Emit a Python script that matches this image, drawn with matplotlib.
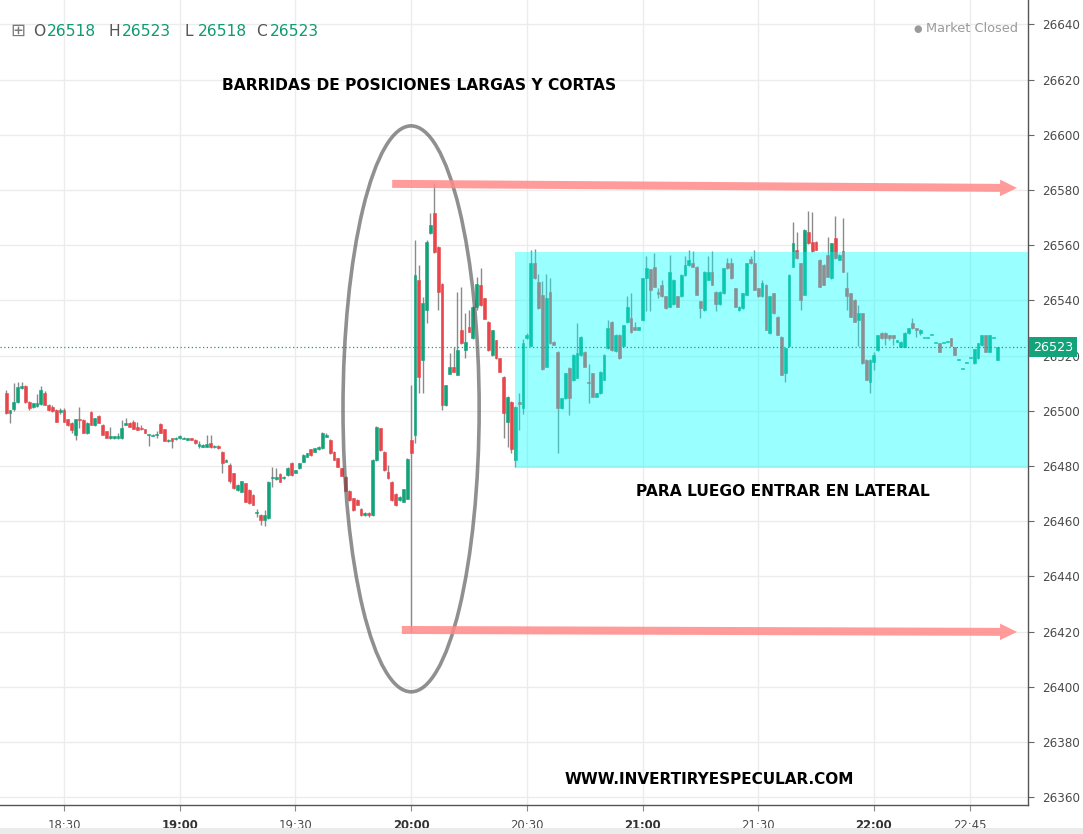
import matplotlib
matplotlib.use('Agg')
import matplotlib.pyplot as plt
from matplotlib.patches import Ellipse, Rectangle, FancyArrow
import matplotlib.transforms as mtransforms
import numpy as np

# ---------------- data (1-minute candles, bar index = position) ----------------
opens = [
 26506.5, 26499.3, 26500.5, 26503.3, 26508.4, 26508.8, 26503.3, 26501.5, 26501.8, 26502.3,
 26506.3, 26502.1, 26501.5, 26500.3, 26499.7, 26500.3, 26496.9, 26495.5, 26491.2, 26496.7,
 26496.7, 26491.9, 26499.5, 26494.9, 26498.0, 26494.9, 26492.5, 26490.0, 26490.0, 26490.0,
 26490.0, 26495.0, 26495.5, 26496.1, 26494.3, 26493.5, 26493.3, 26491.1, 26491.0, 26491.3,
 26495.3, 26493.3, 26489.0, 26490.1, 26489.8, 26490.1, 26489.9, 26489.5, 26490.1, 26489.5,
 26487.3, 26487.0, 26487.0, 26488.5, 26486.8, 26487.3, 26485.2, 26481.6, 26480.4, 26477.4,
 26471.3, 26470.7, 26473.8, 26471.3, 26469.5, 26463.0, 26462.2, 26460.6, 26461.0, 26475.5,
 26475.3, 26477.1, 26475.5, 26476.7, 26481.2, 26477.5, 26479.1, 26481.6, 26483.4, 26486.0,
 26485.2, 26486.1, 26486.4, 26490.6, 26489.4, 26485.2, 26482.8, 26479.1, 26476.1, 26471.0,
 26468.3, 26467.7, 26464.6, 26462.2, 26462.8, 26462.2, 26482.1, 26493.6, 26485.2, 26477.9,
 26474.3, 26470.0, 26467.6, 26467.0, 26468.2, 26489.4, 26491.2, 26547.3, 26518.4, 26536.5,
 26564.3, 26571.5, 26559.4, 26546.1, 26502.1, 26513.5, 26516.0, 26513.0, 26529.2, 26522.0,
 26530.4, 26526.2, 26537.7, 26545.5, 26540.7, 26532.3, 26520.2, 26525.6, 26519.0, 26512.3,
 26496.1, 26503.3, 26482.2, 26503.3, 26501.0, 26526.2, 26523.5, 26553.4, 26546.8, 26542.0,
 26516.0, 26543.2, 26525.0, 26521.4, 26501.0, 26504.5, 26515.5, 26511.0, 26512.0, 26520.2,
 26521.4, 26510.6, 26513.6, 26505.1, 26506.3, 26511.2, 26522.6, 26532.2, 26521.5, 26527.5,
 26523.3, 26532.0, 26533.5, 26530.5, 26529.3, 26532.9, 26548.0, 26551.3, 26552.2, 26543.2,
 26545.6, 26541.4, 26537.7, 26538.5, 26541.4, 26541.4, 26549.2, 26552.8, 26553.4, 26552.2,
 26539.6, 26536.5, 26547.4, 26550.4, 26543.2, 26538.5, 26542.6, 26553.4, 26553.4, 26544.4,
 26536.5, 26537.1, 26542.0, 26555.0, 26553.4, 26544.4, 26541.4, 26545.6, 26528.1, 26542.6,
 26534.1, 26526.9, 26513.6, 26523.3, 26552.2, 26558.3, 26553.4, 26542.0, 26564.9, 26561.3,
 26561.3, 26554.7, 26552.8, 26556.5, 26548.0, 26562.5, 26554.7, 26557.7, 26544.4, 26542.6,
 26540.2, 26532.9, 26535.3, 26518.4, 26510.6, 26517.8, 26522.0, 26528.3, 26528.3, 26527.4,
 26527.4, 26525.0, 26523.2, 26523.2, 26528.0, 26531.7, 26529.9, 26528.0, 26526.3, 26526.3,
 26527.4, 26524.4, 26524.4, 26524.4, 26525.0, 26526.2, 26523.0, 26518.4, 26515.1, 26517.4,
 26519.0, 26517.2, 26519.0, 26523.8, 26527.4, 26521.4, 26526.2, 26518.4]
highs = [
 26507.5, 26500.3, 26510.0, 26510.5, 26510.3, 26509.2, 26503.5, 26502.8, 26506.0, 26509.0,
 26507.0, 26502.5, 26502.0, 26500.5, 26501.0, 26500.9, 26497.2, 26495.8, 26496.9, 26501.5,
 26497.0, 26495.8, 26500.0, 26497.5, 26498.5, 26495.2, 26492.8, 26494.3, 26490.9, 26492.0,
 26496.7, 26497.3, 26496.0, 26496.7, 26496.0, 26495.0, 26493.5, 26491.5, 26491.5, 26492.5,
 26495.6, 26493.5, 26489.8, 26490.3, 26490.5, 26491.3, 26490.5, 26490.3, 26490.3, 26489.7,
 26488.9, 26487.8, 26491.3, 26491.3, 26487.5, 26487.5, 26485.5, 26482.4, 26481.0, 26477.6,
 26473.3, 26474.6, 26474.0, 26471.5, 26469.7, 26464.5, 26462.5, 26464.0, 26474.6, 26479.7,
 26479.1, 26477.3, 26476.3, 26479.7, 26481.4, 26478.7, 26481.2, 26484.2, 26484.8, 26486.2,
 26486.6, 26487.2, 26492.4, 26492.1, 26489.6, 26485.4, 26483.0, 26479.3, 26476.3, 26471.2,
 26468.5, 26467.9, 26464.8, 26463.2, 26463.5, 26482.4, 26494.4, 26493.8, 26485.4, 26480.3,
 26474.5, 26470.2, 26469.0, 26471.8, 26482.9, 26509.3, 26561.8, 26552.8, 26541.3, 26561.8,
 26571.5, 26582.4, 26559.6, 26546.3, 26509.5, 26520.8, 26523.2, 26543.1, 26544.9, 26535.3,
 26536.5, 26537.9, 26548.6, 26551.6, 26540.9, 26532.5, 26529.4, 26525.8, 26519.2, 26512.5,
 26505.3, 26503.5, 26501.7, 26506.3, 26526.0, 26528.0, 26558.3, 26558.5, 26549.5, 26547.0,
 26549.5, 26548.0, 26525.2, 26521.6, 26504.7, 26513.8, 26515.7, 26520.4, 26531.7, 26527.1,
 26521.6, 26517.0, 26513.8, 26506.5, 26514.4, 26520.4, 26533.0, 26532.4, 26527.7, 26527.7,
 26531.2, 26541.4, 26542.6, 26532.0, 26530.5, 26548.2, 26555.9, 26551.5, 26557.1, 26544.5,
 26547.4, 26541.6, 26556.5, 26547.6, 26541.6, 26549.4, 26555.9, 26558.3, 26557.7, 26552.4,
 26539.8, 26550.6, 26555.9, 26557.7, 26543.4, 26543.4, 26551.8, 26555.3, 26555.3, 26544.6,
 26537.9, 26542.8, 26553.6, 26556.0, 26558.3, 26544.6, 26547.4, 26545.8, 26541.6, 26542.8,
 26534.3, 26527.1, 26522.9, 26549.4, 26568.5, 26564.9, 26553.6, 26565.7, 26572.2, 26572.0,
 26561.5, 26554.9, 26553.0, 26563.0, 26560.9, 26570.4, 26556.7, 26569.8, 26550.4, 26542.8,
 26540.4, 26538.3, 26535.5, 26518.6, 26518.7, 26521.4, 26527.6, 26528.5, 26528.5, 26527.6,
 26527.6, 26525.8, 26525.2, 26528.5, 26530.1, 26533.5, 26530.1, 26529.5, 26526.4, 26526.4,
 26527.5, 26524.5, 26524.5, 26524.5, 26525.1, 26526.3, 26523.1, 26518.5, 26515.2, 26517.5,
 26519.1, 26522.4, 26524.6, 26527.6, 26527.6, 26527.6, 26526.3, 26523.2]
lows = [
 26499.0, 26495.5, 26500.0, 26503.0, 26508.0, 26503.0, 26500.3, 26501.0, 26501.5, 26502.0,
 26502.0, 26500.0, 26499.5, 26495.8, 26499.0, 26496.0, 26494.5, 26492.0, 26489.4, 26493.7,
 26491.9, 26491.5, 26494.9, 26494.5, 26495.5, 26491.2, 26490.0, 26489.8, 26489.8, 26489.8,
 26489.8, 26494.8, 26494.0, 26493.3, 26493.0, 26493.0, 26491.8, 26487.3, 26490.8, 26490.0,
 26491.9, 26489.0, 26488.8, 26486.4, 26489.5, 26489.8, 26489.7, 26489.3, 26489.3, 26488.0,
 26486.4, 26486.8, 26486.8, 26486.6, 26486.6, 26486.2, 26477.4, 26481.4, 26474.0, 26471.7,
 26471.1, 26470.5, 26466.9, 26466.3, 26465.7, 26461.5, 26458.6, 26458.3, 26460.8, 26472.5,
 26475.1, 26474.1, 26475.3, 26476.5, 26476.5, 26477.3, 26478.9, 26481.4, 26483.2, 26483.8,
 26485.0, 26485.9, 26486.2, 26490.4, 26484.4, 26482.0, 26479.5, 26476.2, 26470.8, 26467.5,
 26463.8, 26465.7, 26462.0, 26461.8, 26461.5, 26462.0, 26481.9, 26485.6, 26478.3, 26475.3,
 26467.4, 26465.6, 26467.4, 26466.8, 26468.0, 26420.0, 26488.2, 26506.3, 26506.3, 26531.7,
 26564.1, 26557.0, 26536.5, 26500.3, 26501.9, 26513.3, 26513.9, 26512.8, 26524.2, 26519.0,
 26528.4, 26526.0, 26536.5, 26538.1, 26533.2, 26521.8, 26520.0, 26518.8, 26513.9, 26490.0,
 26487.0, 26484.6, 26479.8, 26493.0, 26499.0, 26526.0, 26523.3, 26547.8, 26537.0, 26514.8,
 26515.8, 26524.3, 26523.8, 26484.6, 26500.8, 26504.3, 26498.5, 26510.8, 26511.8, 26520.0,
 26515.8, 26502.7, 26504.9, 26504.9, 26506.1, 26511.0, 26522.4, 26521.8, 26521.3, 26518.8,
 26523.1, 26531.8, 26528.0, 26529.1, 26529.1, 26532.7, 26536.0, 26536.0, 26544.8, 26540.8,
 26541.2, 26536.9, 26537.5, 26538.3, 26537.5, 26541.2, 26549.0, 26552.6, 26552.0, 26541.8,
 26533.5, 26536.3, 26547.2, 26545.4, 26536.0, 26538.3, 26542.4, 26551.4, 26547.8, 26537.5,
 26536.3, 26536.9, 26541.8, 26553.2, 26543.6, 26541.2, 26541.2, 26529.1, 26527.9, 26535.1,
 26527.3, 26512.8, 26510.6, 26523.1, 26552.0, 26555.1, 26536.5, 26541.8, 26560.5, 26557.5,
 26558.1, 26544.8, 26545.4, 26548.4, 26547.8, 26555.1, 26554.5, 26550.2, 26536.5, 26533.9,
 26532.1, 26523.3, 26517.0, 26511.0, 26506.5, 26514.8, 26521.8, 26526.0, 26523.8, 26525.6,
 26523.8, 26524.8, 26523.0, 26523.0, 26527.8, 26529.7, 26526.8, 26527.4, 26526.3, 26526.3,
 26527.4, 26524.4, 26521.4, 26524.4, 26525.0, 26523.5, 26520.2, 26518.4, 26515.1, 26517.4,
 26519.0, 26517.0, 26518.8, 26523.6, 26521.2, 26521.2, 26526.2, 26518.4]
closes = [
 26499.3, 26500.3, 26503.3, 26508.6, 26509.0, 26503.3, 26500.9, 26502.7, 26502.7, 26507.6,
 26502.1, 26500.3, 26500.0, 26496.1, 26500.3, 26496.1, 26494.9, 26493.1, 26496.9, 26496.5,
 26491.9, 26495.5, 26494.9, 26497.3, 26495.5, 26491.2, 26490.0, 26490.8, 26490.8, 26490.8,
 26493.7, 26495.5, 26494.3, 26493.3, 26493.1, 26493.3, 26491.9, 26491.3, 26491.3, 26491.6,
 26491.9, 26489.2, 26489.5, 26489.2, 26490.3, 26490.7, 26490.2, 26490.1, 26489.5, 26488.2,
 26488.0, 26487.6, 26488.0, 26486.8, 26487.3, 26486.4, 26481.0, 26482.2, 26474.4, 26471.9,
 26473.1, 26474.4, 26467.1, 26466.5, 26465.9, 26463.4, 26460.4, 26462.2, 26474.3, 26476.1,
 26476.1, 26474.3, 26476.1, 26479.1, 26476.7, 26478.5, 26481.0, 26484.0, 26484.6, 26484.0,
 26486.4, 26487.0, 26491.8, 26491.4, 26484.6, 26482.2, 26479.7, 26476.4, 26471.0, 26467.7,
 26464.0, 26465.9, 26462.2, 26463.0, 26462.2, 26482.2, 26494.2, 26485.8, 26478.5, 26475.5,
 26467.6, 26465.8, 26468.8, 26471.6, 26482.7, 26484.6, 26549.2, 26512.3, 26538.9, 26561.2,
 26567.3, 26557.5, 26543.1, 26502.1, 26509.3, 26516.0, 26514.1, 26522.0, 26524.4, 26525.0,
 26528.6, 26537.7, 26546.1, 26538.3, 26533.4, 26522.0, 26529.2, 26519.0, 26514.1, 26499.1,
 26505.1, 26486.0, 26501.5, 26502.3, 26524.5, 26527.5, 26553.4, 26548.0, 26537.2, 26515.0,
 26540.7, 26524.5, 26524.0, 26501.0, 26504.5, 26513.6, 26504.5, 26520.2, 26520.8, 26526.9,
 26516.0, 26510.0, 26505.1, 26506.3, 26514.2, 26520.2, 26529.9, 26522.0, 26527.5, 26519.0,
 26531.0, 26537.7, 26528.7, 26529.3, 26530.3, 26548.0, 26551.6, 26543.8, 26545.0, 26542.2,
 26541.4, 26537.1, 26550.4, 26547.4, 26537.7, 26549.2, 26552.8, 26554.7, 26552.2, 26542.0,
 26537.1, 26550.4, 26550.4, 26545.6, 26538.5, 26543.2, 26551.6, 26551.6, 26548.0, 26537.7,
 26537.7, 26542.6, 26553.4, 26553.4, 26543.8, 26541.4, 26546.2, 26529.3, 26541.4, 26535.3,
 26527.5, 26513.0, 26522.7, 26549.2, 26560.7, 26555.3, 26540.2, 26565.5, 26560.7, 26557.7,
 26558.3, 26545.0, 26545.6, 26548.6, 26560.7, 26555.3, 26556.5, 26550.4, 26541.4, 26534.1,
 26532.3, 26535.3, 26517.2, 26511.2, 26518.5, 26520.2, 26527.4, 26526.2, 26526.2, 26526.2,
 26526.2, 26525.6, 26525.0, 26528.3, 26529.9, 26529.9, 26529.3, 26529.3, 26526.4, 26526.4,
 26527.5, 26524.5, 26521.4, 26524.5, 26525.1, 26523.5, 26520.2, 26518.5, 26515.2, 26517.5,
 26519.1, 26522.2, 26524.4, 26527.4, 26521.4, 26527.4, 26526.3, 26523.2]

time_labels = ['18:30', '19:00', '19:30', '20:00', '20:30', '21:00', '21:30', '22:00', '22:45']
time_label_bars = [15, 45, 75, 105, 135, 165, 195, 225, 250]
bold_time_labels = ['19:00', '20:00', '21:00', '22:00']
price_ticks = [26360, 26380, 26400, 26420, 26440, 26460, 26480, 26500,
               26520, 26540, 26560, 26580, 26600, 26620, 26640]
last_price = 26523
header_letters = ['O', 'H', 'L', 'C']
header_values = [26518, 26523, 26518, 26523]

# annotation geometry (bar index / price)
range_box_bars = (131.9, 265.0)
range_box_prices = (26479.3, 26557.5)
ellipse_center = (105.0, 26500.7)
ellipse_size = (35.3, 205.0)
top_arrow = ((100.1, 26582.2), (262.1, 26580.7))
bottom_arrow = ((102.6, 26420.6), (262.1, 26419.9))

title_text = 'BARRIDAS DE POSICIONES LARGAS Y CORTAS'
lateral_text = 'PARA LUEGO ENTRAR EN LATERAL'
site_text = 'WWW.INVERTIRYESPECULAR.COM'

# ---------------- styling ----------------
UP = '#12a37a'
DOWN = '#e8464b'
WICK = '#8a8a8a'
W, H = 1083, 834

fig = plt.figure(figsize=(W / 100, H / 100), dpi=100)
fig.patch.set_facecolor('white')
ax = fig.add_axes([0.0, (H - 805) / H, 1028 / W, 805 / H])

o = np.array(opens); h = np.array(highs); l = np.array(lows); c = np.array(closes)
x = np.arange(len(o))
colors = [UP if cc >= oo else DOWN for oo, cc in zip(o, c)]

ax.vlines(x, l, h, color=WICK, lw=1.0, zorder=3)
body_bottom = np.minimum(o, c)
body_h = np.maximum(np.abs(c - o), 0.35)
ax.bar(x, body_h, bottom=body_bottom, width=0.74, color=colors,
       edgecolor=colors, linewidth=0.4, zorder=4)

ax.set_xlim(-6.1 / 3.857, (1028 - 6.1) / 3.857)
ax.set_ylim(26357.2, 26648.8)

# range box
ax.add_patch(Rectangle((range_box_bars[0], range_box_prices[0]),
                       range_box_bars[1] - range_box_bars[0],
                       range_box_prices[1] - range_box_prices[0],
                       facecolor='#00ffff', alpha=0.40, edgecolor='none', zorder=5))

# last price dotted line
ax.axhline(last_price, color=UP, lw=0.9, ls=(0, (1, 2)), zorder=6)

# ellipse
ax.add_patch(Ellipse(ellipse_center, ellipse_size[0], ellipse_size[1], fill=False,
                     edgecolor='#555555', alpha=0.65, lw=2.6, zorder=7))

# arrows
for (x0, y0), (x1, y1) in (top_arrow, bottom_arrow):
    ax.add_patch(FancyArrow(x0, y0, x1 - x0, y1 - y0, width=2.9, head_width=6.0,
                            head_length=4.4, length_includes_head=True,
                            facecolor='#ff8a8a', edgecolor='none', alpha=0.85, zorder=8))

# axes styling
for s in ('top', 'left'):
    ax.spines[s].set_visible(False)
for s in ('right', 'bottom'):
    ax.spines[s].set_color('#555555')
    ax.spines[s].set_linewidth(1.0)

ax.yaxis.tick_right()
ax.set_yticks(price_ticks)
ax.set_yticklabels([str(p) for p in price_ticks])
ax.tick_params(axis='y', direction='out', length=4, width=0.8, colors='#666666',
               labelcolor='#4a4a4a', labelsize=8.6, pad=6)
ax.set_xticks(time_label_bars)
ax.set_xticklabels(time_labels)
ax.tick_params(axis='x', direction='out', length=4, width=0.8, colors='#888888',
               labelcolor='#4a4a4a', labelsize=8.4, pad=6)
for t in ax.get_xticklabels():
    if t.get_text() in bold_time_labels:
        t.set_fontweight('bold')
        t.set_color('#333333')

ax.grid(True, color='#ececec', lw=1.0)
ax.set_axisbelow(True)

# price tag (drawn over the partly hidden 26520 label, as in the reference)
tag_tr = mtransforms.blended_transform_factory(ax.transAxes, ax.transData)
ax.text(1.0 + 5 / 1028, last_price, str(last_price), transform=tag_tr, ha='left', va='center',
        color='white', fontsize=9.2, clip_on=False, zorder=20,
        bbox=dict(boxstyle='square,pad=0.28', fc=UP, ec='none'))

# annotation texts
def fx(px):
    return px / W

def fy(py):
    return 1 - py / H

fig.text(fx(419), fy(85), title_text, ha='center', va='center', fontsize=11.2,
         fontweight='bold', color='black')
fig.text(fx(783), fy(492), lateral_text, ha='center', va='center', fontsize=11.2,
         fontweight='bold', color='black')
fig.text(fx(709), fy(780), site_text, ha='center', va='center', fontsize=11.0,
         fontweight='bold', color='black')

# header (OHLC)
fig.text(fx(10), fy(31), '\u229e', ha='left', va='center', fontsize=13, color='#7a7a7a')
hx = [33, 108, 184, 256]
for px, letter, val in zip(hx, header_letters, header_values):
    fig.text(fx(px), fy(31), letter, ha='left', va='center', fontsize=11.2, color='#555555')
    fig.text(fx(px + 14), fy(31), str(val), ha='left', va='center', fontsize=11.2,
             color='#0f9a70')

# market closed
fig.text(fx(913), fy(29), '\u25cf', ha='left', va='center', fontsize=7, color='#9a9a9a')
fig.text(fx(926), fy(29), 'Market Closed', ha='left', va='center', fontsize=9.3,
         color='#9a9a9a')

# bottom band
fig.patches.append(Rectangle((0, 0), 1, 6 / H, transform=fig.transFigure,
                             facecolor='#ebebeb', edgecolor='none', zorder=0))

fig.savefig('out.png', dpi=100)
